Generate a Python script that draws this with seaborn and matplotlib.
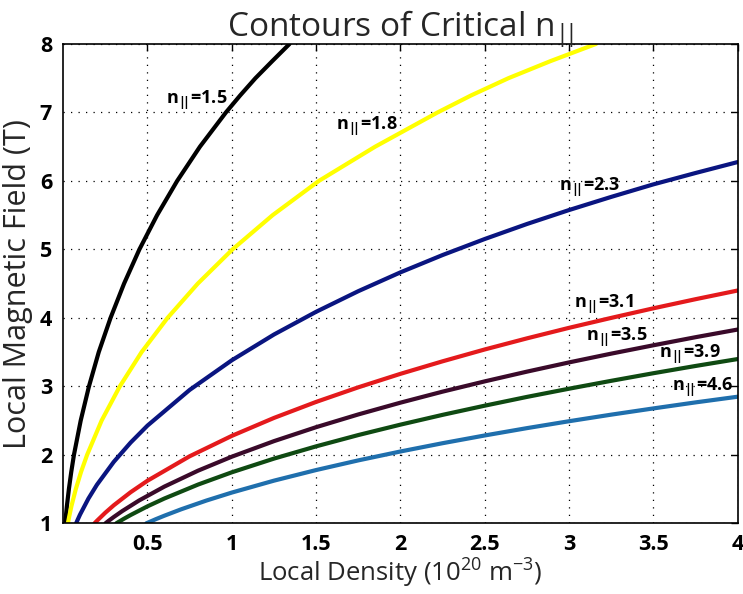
import numpy as np
import pandas as pd
import matplotlib
matplotlib.use("Agg")
import matplotlib.pyplot as plt
import seaborn as sns

# ---- data (density x in 1e20 m^-3, field B in T) ----
n_labels = ["1.5", "1.8", "2.3", "3.1", "3.5", "3.9", "4.6"]

x_15 = [0.012, 0.016, 0.022, 0.034, 0.048, 0.064, 0.104, 0.153, 0.211, 0.281, 0.361, 0.452,
        0.557, 0.676, 0.811, 0.965, 1.05, 1.14, 1.24, 1.342]
y_15 = [1.0, 1.1, 1.25, 1.5, 1.75, 2.0, 2.5, 3.0, 3.5, 4.0, 4.5, 5.0,
        5.5, 6.0, 6.5, 7.0, 7.25, 7.5, 7.75, 8.0]

x_18 = [0.028, 0.036, 0.049, 0.075, 0.106, 0.142, 0.228, 0.336, 0.465, 0.619, 0.798, 1.004,
        1.242, 1.516, 1.85, 2.22, 2.42, 2.64, 2.89, 3.159]
y_18 = [1.0, 1.1, 1.25, 1.5, 1.75, 2.0, 2.5, 3.0, 3.5, 4.0, 4.5, 5.0,
        5.5, 6.0, 6.5, 7.0, 7.25, 7.5, 7.75, 8.0]

x_23 = [0.077, 0.085, 0.1, 0.15, 0.2, 0.3, 0.4, 0.5, 0.75, 1.0, 1.25, 1.5, 1.75, 2.0,
        2.25, 2.5, 2.75, 3.0, 3.25, 3.5, 3.75, 4.0]
y_23 = [1.0, 1.046, 1.127, 1.362, 1.562, 1.897, 2.179, 2.427, 2.948, 3.381, 3.757, 4.089,
        4.390, 4.665, 4.918, 5.152, 5.371, 5.575, 5.767, 5.95, 6.116, 6.276]

x_31 = [0.186, 0.2, 0.25, 0.3, 0.4, 0.5, 0.75, 1.0, 1.25, 1.5, 1.75, 2.0,
        2.25, 2.5, 2.75, 3.0, 3.25, 3.5, 3.75, 4.0]
y_31 = [1.0, 1.036, 1.155, 1.263, 1.454, 1.622, 1.979, 2.277, 2.539, 2.773, 2.986, 3.183,
        3.366, 3.539, 3.701, 3.855, 4.0, 4.14, 4.273, 4.40]

x_35 = [0.251, 0.27, 0.3, 0.35, 0.45, 0.6, 0.8, 1.0, 1.25, 1.5, 1.75, 2.0,
        2.25, 2.5, 2.75, 3.0, 3.25, 3.5, 3.75, 4.0]
y_35 = [1.0, 1.037, 1.092, 1.178, 1.333, 1.536, 1.769, 1.973, 2.2, 2.404, 2.59, 2.762,
        2.923, 3.073, 3.215, 3.35, 3.478, 3.6, 3.718, 3.83]

x_39 = [0.315, 0.33, 0.36, 0.4, 0.5, 0.6, 0.8, 1.0, 1.25, 1.5, 1.75, 2.0,
        2.25, 2.5, 2.75, 3.0, 3.25, 3.5, 3.75, 4.0]
y_39 = [1.0, 1.022, 1.066, 1.121, 1.248, 1.362, 1.566, 1.745, 1.945, 2.124, 2.289, 2.441,
        2.584, 2.718, 2.846, 2.966, 3.081, 3.192, 3.298, 3.399]

x_46 = [0.493, 0.51, 0.55, 0.6, 0.7, 0.85, 1.0, 1.25, 1.5, 1.75, 2.0,
        2.25, 2.5, 2.75, 3.0, 3.25, 3.5, 3.75, 4.0]
y_46 = [1.0, 1.018, 1.061, 1.111, 1.205, 1.333, 1.449, 1.623, 1.778, 1.919, 2.049,
        2.17, 2.283, 2.39, 2.491, 2.587, 2.678, 2.766, 2.849]

label_x = [0.61, 1.62, 2.94, 3.03, 3.10, 3.53, 3.61]
label_y = [7.18, 6.79, 5.91, 4.19, 3.72, 3.46, 2.98]

colors = ["#000000", "#FFFF00", "#0A1580", "#E41A1C", "#3A0A2A", "#0F4A12", "#1F6FAD"]

xs = [x_15, x_18, x_23, x_31, x_35, x_39, x_46]
ys = [y_15, y_18, y_23, y_31, y_35, y_39, y_46]

frames = []
for lab, xv, yv in zip(n_labels, xs, ys):
    frames.append(pd.DataFrame({"density": xv, "field": yv, "n": lab}))
df = pd.concat(frames, ignore_index=True)

sns.set_theme(style="white")
plt.rcParams["font.family"] = ["Open Sans", "DejaVu Sans"]
plt.rcParams["mathtext.fontset"] = "custom"
plt.rcParams["mathtext.rm"] = "Open Sans"
plt.rcParams["mathtext.bf"] = "Open Sans:bold"
plt.rcParams["mathtext.default"] = "regular"

fig = plt.figure(figsize=(7.43, 5.94), dpi=100)
ax = fig.add_axes([0.085, 0.119, 0.908, 0.807])

sns.lineplot(data=df, x="density", y="field", hue="n", palette=colors,
             hue_order=n_labels, sort=False, estimator=None, units="n",
             linewidth=3.0, legend=False, ax=ax)

ax.set_xlim(0.0, 4.0)
ax.set_ylim(1, 8)
ax.set_xticks([0.5, 1, 1.5, 2, 2.5, 3, 3.5, 4])
ax.set_xticklabels(["0.5", "1", "1.5", "2", "2.5", "3", "3.5", "4"])
ax.set_yticks([1, 2, 3, 4, 5, 6, 7, 8])
ax.grid(True, color="black", linestyle=(0, (1, 5)), linewidth=0.9)
ax.tick_params(direction="in", length=5, width=1, top=True, right=True,
               labelsize=15.5, pad=8, colors="black")
for lbl in ax.get_xticklabels() + ax.get_yticklabels():
    lbl.set_fontweight("bold")
for s in ax.spines.values():
    s.set_color("black")
    s.set_linewidth(1.2)

for lab, lx, ly in zip(n_labels, label_x, label_y):
    ax.text(lx, ly, r"n$_{|\!|}$=" + lab, fontsize=13, fontweight="bold",
            ha="left", va="center", color="black")

ax.set_title(r"Contours of Critical n$_{|\!|}$", fontsize=24, pad=5)
ax.set_xlabel("Local Density (10$^{20}$ m$^{-3}$)", fontsize=18.5, labelpad=1)
ax.set_ylabel("Local Magnetic Field (T)", fontsize=22, labelpad=5)

fig.savefig("out.png", dpi=100)
